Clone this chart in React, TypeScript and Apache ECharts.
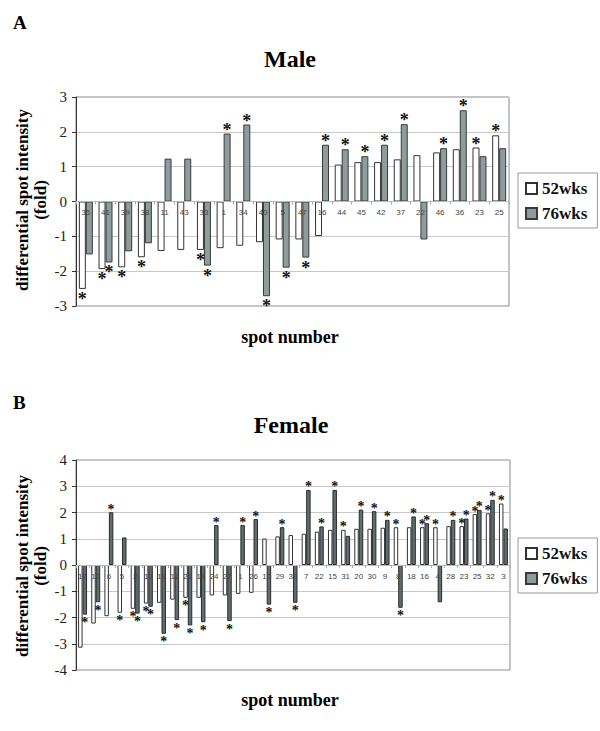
import React, { useEffect, useRef } from "react";
import * as echarts from "echarts";

// Panel A (Male)
const catsA = ["35","41","39","38","11","43","33","1","34","40","5","47","16","44","45","42","37","22","46","36","23","25"];
const a52 = [-2.51,-1.94,-1.89,-1.60,-1.42,-1.39,-1.39,-1.34,-1.27,-1.17,-1.09,-1.09,-0.99,1.06,1.13,1.13,1.21,1.33,1.41,1.50,1.55,1.90];
const a76 = [-1.52,-1.75,-1.43,-1.20,1.23,1.23,-1.84,1.95,2.21,-2.72,-1.90,-1.61,1.63,1.50,1.30,1.63,2.22,-1.09,1.53,2.62,1.30,1.53];
const sigA52 = [1,1,1,1,0,0,1,0,0,0,0,0,0,0,0,0,0,0,0,0,1,1];
const sigA76 = [0,1,0,0,0,0,1,1,1,1,1,1,1,1,1,1,1,0,1,1,0,0];

// Panel B (Female)
const catsB = ["17","12","6","5","2","13","19","11","21","14","24","27","1","26","10","29","33","7","22","15","31","20","30","9","8","18","16","4","28","23","25","32","3"];
const b52 = [-3.15,-2.23,-1.95,-1.82,-1.67,-1.47,-1.44,-1.32,-1.25,-1.25,-1.16,-1.16,-1.10,-1.06,1.01,1.09,1.14,1.19,1.27,1.34,1.34,1.38,1.38,1.42,1.44,1.44,1.44,1.44,1.48,1.48,1.94,1.97,2.34];
const b76 = [-1.89,-1.42,2.01,1.05,-1.85,-1.59,-2.62,-2.10,-2.30,-2.18,1.52,-2.14,1.52,1.75,-1.51,1.44,-1.44,2.86,1.47,2.86,1.11,2.11,2.05,1.72,-1.63,1.85,1.59,-1.42,1.72,1.77,2.10,2.48,1.39];
const sigB52 = [0,0,0,1,1,1,0,0,1,0,0,0,0,0,0,0,0,0,0,0,1,0,0,0,1,0,1,1,0,1,1,1,1];
const sigB76 = [1,1,1,0,1,1,1,1,1,1,1,1,1,1,1,1,1,1,1,1,0,1,1,1,1,1,1,0,1,1,1,1,0];

const legendNames = ["52wks", "76wks"];
const yTitle = "differential spot intensity\n(fold)";

const SERIF = '"Liberation Serif", "Times New Roman", serif';
const SANS = '"Liberation Sans", Arial, sans-serif';

function mkData(vals: number[], sig: number[], fs: number) {
  return vals.map((v, i) => ({
    value: v,
    label: {
      show: !!sig[i],
      position: v >= 0 ? "top" : "bottom",
      distance: v >= 0 ? -Math.round(fs * 0.3) : 1,
      color: "#111111",
      fontWeight: "bold",
      fontFamily: SERIF,
      fontSize: fs,
      lineHeight: fs,
    },
  }));
}

export default function App() {
  const ref = useRef<HTMLDivElement>(null);
  useEffect(() => {
    if (!ref.current) return;
    const chart = echarts.init(ref.current, null, { renderer: "svg" });
    const starLabel = (fs: number) => ({
      show: false,
      formatter: "*",
      fontFamily: SERIF,
      fontWeight: "bold",
      fontSize: fs,
      lineHeight: fs,
      color: "#111111",
    });
    const whiteStyle = { color: "#ffffff", borderColor: "#333333", borderWidth: 1 };
    const grayA = { color: "#8e9c9c", borderColor: "#3a3a3a", borderWidth: 1 };
    const grayB = { color: "#5f6f6f", borderColor: "#2a2a2a", borderWidth: 1 };
    const xAxisCommon = (cats: string[], offset: number) => ({
      type: "category",
      data: cats,
      z: 10,
      position: "bottom",
      offset,
      axisLine: { show: true, onZero: false, lineStyle: { color: "#bbbbbb", width: 1 } },
      axisTick: { show: true, length: 3, lineStyle: { color: "#aaaaaa" } },
      axisLabel: {
        interval: 0,
        hideOverlap: false,
        fontSize: 8,
        fontFamily: SANS,
        color: "#444444",
        margin: 7,
      },
      splitLine: { show: false },
    });
    const yAxisCommon = (mn: number, mx: number) => ({
      type: "value",
      min: mn,
      max: mx,
      interval: 1,
      axisLine: { show: true, onZero: false, lineStyle: { color: "#333333", width: 1 } },
      axisTick: { show: true, length: 4, lineStyle: { color: "#333333" } },
      axisLabel: { fontSize: 15, fontFamily: SERIF, color: "#222222", margin: 9 },
      splitLine: { show: true, lineStyle: { color: "#c8c8c8", width: 1 } },
    });
    const legendCommon = (top: number) => ({
      orient: "vertical",
      left: 518,
      top,
      data: legendNames.map((n) => ({ name: n, icon: "rect" })),
      backgroundColor: "#ffffff",
      borderColor: "#999999",
      borderWidth: 1,
      borderRadius: 0,
      padding: [7, 10, 6, 7],
      itemGap: 8,
      itemWidth: 11,
      itemHeight: 11,
      textStyle: { fontFamily: SERIF, fontWeight: "bold", fontSize: 17, color: "#111111" },
      selectedMode: false,
    });
    const txt = (text: string, x: number, y: number, size: number, extra: any = {}) => ({
      type: "text",
      x,
      y,
      rotation: extra.rotation || 0,
      style: {
        text,
        font: `bold ${size}px ${SERIF}`,
        fill: "#000000",
        textAlign: extra.align || "center",
        textVerticalAlign: "middle",
        lineHeight: 18,
      },
    });
    chart.setOption({
      animation: false,
      grid: [
        { left: 76, top: 97, width: 433, height: 209, show: true, borderColor: "#888888", borderWidth: 1, backgroundColor: "transparent" },
        { left: 76, top: 460, width: 434, height: 210, show: true, borderColor: "#888888", borderWidth: 1, backgroundColor: "transparent" },
      ],
      xAxis: [
        { ...xAxisCommon(catsA, -104.5), gridIndex: 0 },
        { ...xAxisCommon(catsB, -105), gridIndex: 1 },
      ],
      yAxis: [
        { ...yAxisCommon(-3, 3), gridIndex: 0 },
        { ...yAxisCommon(-4, 4), gridIndex: 1 },
      ],
      legend: [legendCommon(173), legendCommon(538)],
      series: [
        {
          name: legendNames[0], type: "bar", xAxisIndex: 0, yAxisIndex: 0,
          data: mkData(a52, sigA52, 18), itemStyle: whiteStyle, label: starLabel(18),
          barGap: "0%", barCategoryGap: "29%",
        },
        {
          name: legendNames[1], type: "bar", xAxisIndex: 0, yAxisIndex: 0,
          data: mkData(a76, sigA76, 18), itemStyle: grayA, label: starLabel(18),
          barGap: "0%", barCategoryGap: "29%",
        },
        {
          name: legendNames[0], type: "bar", xAxisIndex: 1, yAxisIndex: 1,
          data: mkData(b52, sigB52, 14), itemStyle: whiteStyle, label: starLabel(14),
          barGap: "0%", barCategoryGap: "32%",
        },
        {
          name: legendNames[1], type: "bar", xAxisIndex: 1, yAxisIndex: 1,
          data: mkData(b76, sigB76, 14), itemStyle: grayB, label: starLabel(14),
          barGap: "0%", barCategoryGap: "32%",
        },
      ],
      graphic: [
        txt("A", 13, 22, 19, { align: "left" }),
        txt("Male", 290, 59, 24),
        txt("spot number", 290, 337, 18),
        txt(yTitle, 31, 200, 17, { rotation: Math.PI / 2 }),
        txt("B", 13, 402, 19, { align: "left" }),
        txt("Female", 291, 425, 24),
        txt("spot number", 290, 700, 18),
        txt(yTitle, 31, 566, 17, { rotation: Math.PI / 2 }),
      ],
    });
    return () => chart.dispose();
  }, []);
  return (
    <div
      ref={ref}
      style={{ position: "absolute", left: 0, top: 0, width: 600, height: 731, background: "#ffffff" }}
    />
  );
}
